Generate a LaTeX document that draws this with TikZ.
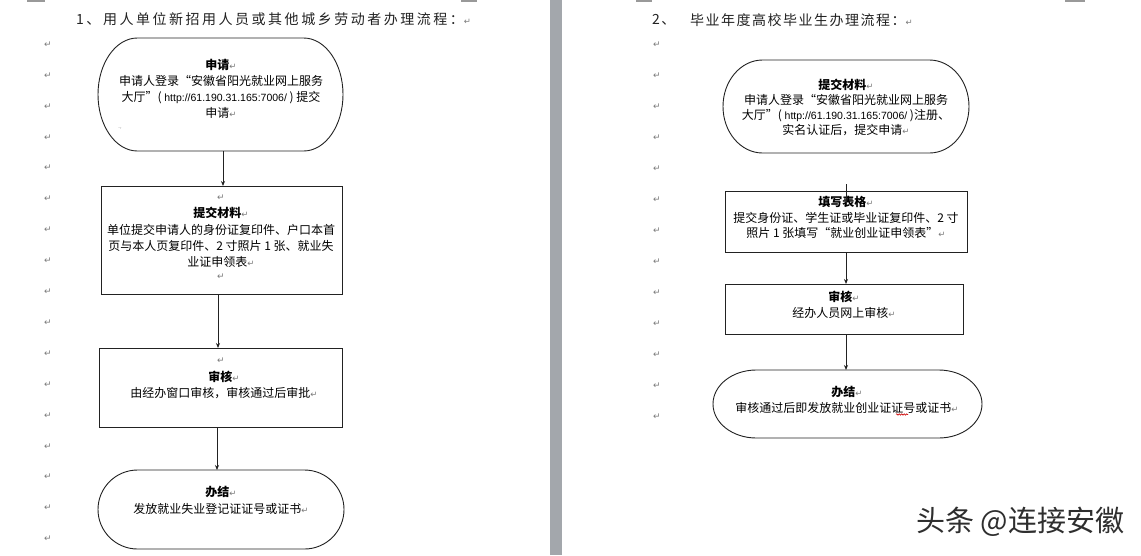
\documentclass[tikz,border=0pt]{standalone}
\usepackage{fontspec}
\setmainfont{Noto Sans CJK SC}
\newfontfamily\latfont{Liberation Sans}
\newfontfamily\pmfont{DejaVu Sans}
\newfontfamily\titleAfont[LetterSpace=18]{Noto Sans CJK SC}
\newfontfamily\titleBfont[LetterSpace=10.7]{Noto Sans CJK SC}
\usetikzlibrary{arrows.meta,decorations.pathmorphing,calc}
\definecolor{pmgray}{HTML}{7A7A7A}
\definecolor{bandgray}{HTML}{A3A7AC}
\definecolor{inkgray}{HTML}{222222}
\newcommand{\pmk}{{\pmfont\fontsize{8.5}{8.5}\selectfont\textcolor{pmgray}{↵}}}
\newcommand{\weblink}{{\latfont\fontsize{10.5}{10.5}\selectfont http://61.190.31.165:7006/}}
% capsule (Word terminator) outline around a named node: node, half width, half height, x radius
\newcommand{\capsuleline}[4]{%
  \pgfmathsetmacro\capA{#2-#4}%
  \pgfmathsetmacro\capB{#2-#4+0.5523*#4}%
  \pgfmathsetmacro\capC{0.5523*#3}%
  \begin{scope}[shift={(#1.center)}]
    \draw[boxline] (-\capA,-#3) -- (\capA,-#3)
      .. controls (\capB,-#3) and (#2,-\capC) .. (#2,0)
      .. controls (#2,\capC) and (\capB,#3) .. (\capA,#3)
      -- (-\capA,#3)
      .. controls (-\capB,#3) and (-#2,\capC) .. (-#2,0)
      .. controls (-#2,-\capC) and (-\capB,-#3) .. cycle;
  \end{scope}}
\begin{document}
\begin{tikzpicture}[x=1pt,y=-1pt,
  boxline/.style={draw=inkgray, line width=0.9pt},
  shapebox/.style={rectangle, inner sep=0pt, outer sep=0pt},
  flowbox/.style={shapebox, boxline},
  arr/.style={draw=inkgray, line width=0.9pt, -{Stealth[length=5pt,width=4pt]}},
  plainline/.style={draw=inkgray, line width=0.9pt},
  txt/.style={align=center, inner sep=0pt, text=black},
  pm/.style={inner sep=0pt, font=\pmfont\fontsize{9}{9}\selectfont, text=pmgray},
]
\useasboundingbox (0,0) rectangle (1141,555);
\fill[white] (0,0) rectangle (1141,555);

% page gap band and corner marks
\fill[bandgray] (550,0) rectangle (562,555);
\fill[black!40] (27,0) rectangle (45,2);
\fill[black!40] (461,0) rectangle (477,2);
\fill[black!40] (636,0) rectangle (652,2);
\fill[black!40] (1065,0) rectangle (1085,2);

% titles
\node[anchor=west, inner sep=0pt, font=\titleAfont\fontsize{14}{14}\selectfont, text=inkgray] (t1) at (76,19) {1、用人单位新招用人员或其他城乡劳动者办理流程：\pmk};
\node[anchor=west, inner sep=0pt, font=\titleBfont\fontsize{14}{14}\selectfont, text=inkgray] (t2a) at (652,20) {2、};
\node[anchor=west, inner sep=0pt, font=\titleBfont\fontsize{14}{14}\selectfont, text=inkgray] (t2b) at (690,20) {毕业年度高校毕业生办理流程：\pmk};

% margin paragraph marks
\foreach \i in {0,...,16} \node[pm] (lm\i) at (48,{44.5+30.9*\i}) {↵};
\foreach \i in {0,...,12} \node[pm] (rm\i) at (657,{44.5+31*\i}) {↵};

% ---------- left flow ----------
\node[shapebox, minimum width=245pt, minimum height=113pt] (s1) at (220.5,94.5) {};
\capsuleline{s1}{122.5}{56.5}{39.4}
\node[txt, font=\fontsize{12}{16}\selectfont] (s1t) at (221,89) {\textbf{申请}\pmk\\申请人登录“安徽省阳光就业网上服务\\大厅”( \weblink{} ) 提交\\申请\pmk};
\node[pm, font=\pmfont\fontsize{5}{5}\selectfont] (s1m) at (120,128) {.,};

\node[flowbox, minimum width=241pt, minimum height=108pt] (b2) at (221.5,240) {};
\node[pm] (b2m1) at (221,198) {↵};
\node[txt, font=\fontsize{12}{16.3}\selectfont] (b2t) at (221,237.5) {\textbf{提交材料}\pmk\\单位提交申请人的身份证复印件、户口本首\\页与本人页复印件、2 寸照片 1 张、就业失\\业证申领表\pmk};
\node[pm] (b2m2) at (221,277) {↵};

\node[flowbox, minimum width=243pt, minimum height=79pt] (b3) at (220.5,387.5) {};
\node[pm] (b3m) at (221,361) {↵};
\node[txt, font=\fontsize{12}{16}\selectfont] (b3t) at (224,385) {\textbf{审核}\pmk\\由经办窗口审核，审核通过后审批\pmk};

\node[shapebox, minimum width=246pt, minimum height=79pt] (s4) at (221,509.5) {};
\capsuleline{s4}{123}{39.5}{39.6}
\node[txt, font=\fontsize{12}{17}\selectfont] (s4t) at (221,500.5) {\textbf{办结}\pmk\\发放就业失业登记证证号或证书\pmk};

\draw[arr] ([xshift=2.5pt]s1.south) -- ([xshift=1.5pt]b2.north);
\draw[arr] ([xshift=-3.5pt]b2.south) -- ([xshift=-2.5pt]b3.north);
\draw[arr] ([xshift=-3.5pt]b3.south) -- ([xshift=-4pt]s4.north);

% ---------- right flow ----------
\node[shapebox, minimum width=246pt, minimum height=93pt] (r1) at (846,106.5) {};
\capsuleline{r1}{123}{46.5}{39.6}
\node[txt, font=\fontsize{12}{15}\selectfont] (r1t) at (846,107.5) {\textbf{提交材料}\pmk\\申请人登录“安徽省阳光就业网上服务\\大厅”( \weblink{} )注册、\\实名认证后，提交申请\pmk};

\node[flowbox, minimum width=242pt, minimum height=61pt] (r2) at (846,221.5) {};
\node[txt, font=\fontsize{12}{15.5}\selectfont] (r2t) at (846,217.5) {\textbf{填写表格}\pmk\\提交身份证、学生证或毕业证复印件、2 寸\\照片 1 张填写“就业创业证申领表”\pmk};

\node[flowbox, minimum width=238pt, minimum height=50pt] (r3) at (844,309) {};
\node[txt, font=\fontsize{12}{16}\selectfont] (r3t) at (844,305) {\textbf{审核}\pmk\\经办人员网上审核\pmk};

\node[shapebox, minimum width=269pt, minimum height=68pt] (r4) at (847.5,404) {};
\capsuleline{r4}{134.5}{34}{43.3}
\node[txt, font=\fontsize{12}{16}\selectfont] (r4t) at (847,400) {\textbf{办结}\pmk\\审核通过后即发放就业创业证证号或证书\pmk};
\draw[red!80!black, line width=0.6pt, decorate, decoration={snake, amplitude=0.7pt, segment length=2.5pt}] (896,414.5) -- (908,414.5);

\draw[plainline] ([yshift=7pt]r2.north) -- ([yshift=-14pt]r2.north);
\draw[arr] (r2.south) -- ([xshift=2pt]r3.north);
\draw[arr] ([xshift=2pt]r3.south) -- ([xshift=-1.5pt]r4.north);

% watermark
\node[anchor=west, inner sep=0pt, font=\fontsize{29}{29}\selectfont, text=black!82] (wm) at (916,522) {头条 @连接安徽};
\end{tikzpicture}
\end{document}
